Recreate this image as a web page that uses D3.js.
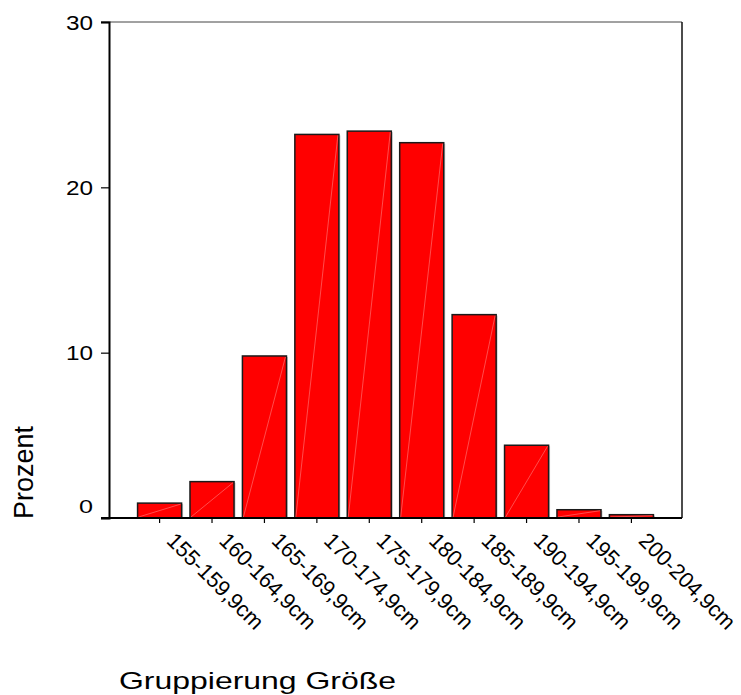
<!DOCTYPE html>
<html>
<head>
<meta charset="utf-8">
<script src="https://cdn.jsdelivr.net/npm/d3@7"></script>
<style>
  body { margin: 0; background: #fff; }
  text { font-family: "Liberation Sans", Arial, sans-serif; fill: #000; }
</style>
</head>
<body>
<script>
// Gruppierung Größe -> Prozent
var categories = ["155-159,9cm", "160-164,9cm", "165-169,9cm", "170-174,9cm", "175-179,9cm",
                  "180-184,9cm", "185-189,9cm", "190-194,9cm", "195-199,9cm", "200-204,9cm"];
var percent = [0.9, 2.2, 9.8, 23.2, 23.4, 22.7, 12.3, 4.4, 0.5, 0.2];
var yTicks = [0, 10, 20, 30];

var width = 741;
var height = 695;
// note: "top" is a reserved window property, so use plot* names
var plotLeft = 109, plotRight = 682, plotTop = 22, plotBottom = 518;

var svg = d3.select("body").append("svg")
        .attr("width", width)
        .attr("height", height);

var x = d3.scaleBand()
        .domain(categories)
        .range([plotLeft, plotRight])
        .paddingInner(0.16)
        .paddingOuter(0.545);

var y = d3.scaleLinear()
        .domain([0, 30])
        .range([plotBottom, plotTop]);

// frame top + right
svg.append("line").attr("x1", plotLeft - 8).attr("x2", plotRight).attr("y1", plotTop).attr("y2", plotTop)
        .attr("stroke", "#444").attr("stroke-width", 1);
svg.append("line").attr("x1", plotRight).attr("x2", plotRight).attr("y1", plotTop).attr("y2", plotBottom)
        .attr("stroke", "#111").attr("stroke-width", 1.5);

// bars
var bars = svg.selectAll(".bar")
        .data(percent).enter().append("g")
        .attr("class", "bar");

bars.append("rect")
        .attr("x", function(d, i){ return x(categories[i]) + 1.5; })
        .attr("y", function(d){ return y(d) + 1; })
        .attr("width", x.bandwidth())
        .attr("height", function(d){ return plotBottom - y(d); })
        .attr("fill", "#c8c8c8");

bars.append("rect")
        .attr("x", function(d, i){ return x(categories[i]); })
        .attr("y", function(d){ return y(d); })
        .attr("width", x.bandwidth())
        .attr("height", function(d){ return plotBottom - y(d); })
        .attr("fill", "#ff0000")
        .attr("stroke", "#1a1a1a")
        .attr("stroke-width", 1.5);

// faint diagonal seam inside each bar
bars.append("line")
        .attr("x1", function(d, i){ return x(categories[i]) + 1; })
        .attr("y1", plotBottom - 1)
        .attr("x2", function(d, i){ return x(categories[i]) + x.bandwidth() - 1; })
        .attr("y2", function(d){ return y(d) + 1; })
        .attr("stroke", "#ff8080")
        .attr("stroke-width", 0.6);

// y axis
var y_axis = d3.axisLeft(y).tickValues(yTicks).tickSize(8).tickFormat("");
var yg = svg.append("g").attr("transform", "translate(" + plotLeft + ",0)").call(y_axis);
yg.select(".domain").attr("stroke", "#000").attr("stroke-width", 2);
yg.selectAll(".tick line").attr("stroke", "#000").attr("stroke-width", 1.2);

svg.selectAll(".ylab")
        .data(yTicks).enter().append("text")
        .attr("class", "ylab")
        .attr("x", 93)
        .attr("y", function(d){ return d == 0 ? y(d) - 11 : y(d); })
        .attr("text-anchor", "end")
        .attr("dominant-baseline", "central")
        .style("font-size", function(d){ return d == 0 ? "18px" : "21px"; })
        .attr("textLength", function(d){ return d == 0 ? 14 : 27; })
        .attr("lengthAdjust", "spacingAndGlyphs")
        .text(function(d){ return d; });

// x axis
var x_axis = d3.axisBottom(x).tickSize(5).tickSizeOuter(0).tickFormat("");
var xg = svg.append("g").attr("transform", "translate(0," + plotBottom + ")").call(x_axis);
xg.select(".domain").attr("stroke", "#000").attr("stroke-width", 2)
        .attr("d", "M" + (plotLeft - 8) + ",0H" + plotRight);
xg.selectAll(".tick line").attr("stroke", "#000").attr("stroke-width", 1.2);

svg.selectAll(".xlab")
        .data(categories).enter().append("text")
        .attr("class", "xlab")
        .attr("transform", function(d){
            return "translate(" + (x(d) + x.bandwidth() / 2 + 6) + ",542) rotate(45)";
        })
        .attr("text-anchor", "start")
        .style("font-size", "22px")
        .attr("textLength", 126)
        .attr("lengthAdjust", "spacingAndGlyphs")
        .text(function(d){ return d; });

// axis titles
svg.append("text")
        .attr("transform", "translate(33,519) rotate(-90)")
        .attr("text-anchor", "start")
        .style("font-size", "27px")
        .text("Prozent");

svg.append("text")
        .attr("x", 119)
        .attr("y", 689)
        .style("font-size", "24px")
        .attr("textLength", 277)
        .attr("lengthAdjust", "spacingAndGlyphs")
        .text("Gruppierung Größe");
</script>
</body>
</html>
